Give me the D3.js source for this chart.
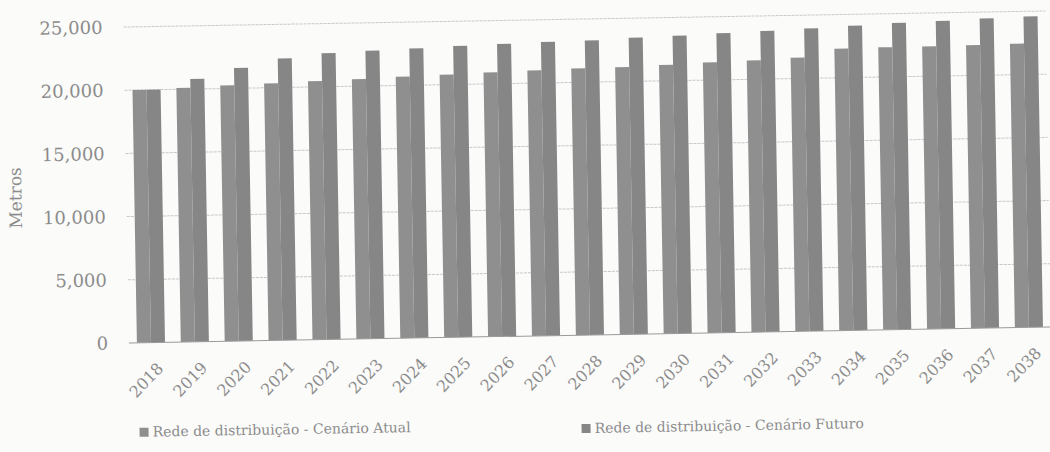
<!DOCTYPE html>
<html>
<head>
<meta charset="utf-8">
<script src="https://d3js.org/d3.v7.min.js"></script>
<style>
  body { margin: 0; background: #fbfbfa; }
  #chart { width: 1050px; height: 452px; }
  .tick text { font-family: "DejaVu Serif", serif; fill: #8c8c8c; }
</style>
</head>
<body>
<div id="chart"></div>
<script>
// data
var anos = ["2018","2019","2020","2021","2022","2023","2024","2025","2026","2027",
            "2028","2029","2030","2031","2032","2033","2034","2035","2036","2037","2038"];
var cenarioAtual = [20000, 20100, 20250, 20350, 20450, 20550, 20700, 20800, 20900, 21000,
                    21100, 21150, 21250, 21400, 21500, 21650, 22300, 22350, 22350, 22400, 22450];
var cenarioFuturo = [20000, 20800, 21600, 22300, 22650, 22800, 22900, 23050, 23150, 23250,
                     23300, 23450, 23550, 23700, 23800, 23950, 24100, 24250, 24350, 24500, 24600];
var yTicks = [0, 5000, 10000, 15000, 20000, 25000];
var series = ["Rede de distribuição - Cenário Atual", "Rede de distribuição - Cenário Futuro"];

var width = 1050;
var height = 452;

// plot area (before the little scan tilt)
var plotLeft = 129;
var plotRight = 1051;
var plotTop = 27;
var plotBottom = 343;

var svg = d3.select("#chart").append("svg")
    .attr("width", width)
    .attr("height", height);

// the whole page is scanned slightly crooked
var g = svg.append("g")
    .attr("transform", "rotate(-1," + plotLeft + "," + plotBottom + ")");

var x = d3.scaleBand()
    .domain(anos)
    .range([plotLeft, plotRight])
    .paddingInner(0.36)
    .paddingOuter(0.18);

var xSub = d3.scaleBand()
    .domain([0, 1])
    .range([0, x.bandwidth()]);

var y = d3.scaleLinear()
    .domain([0, 25000])
    .range([plotBottom, plotTop]);

// gridlines
g.append("g")
    .selectAll("line")
    .data(yTicks.slice(1))
    .enter()
    .append("line")
    .attr("x1", plotLeft)
    .attr("x2", plotRight)
    .attr("y1", d => y(d))
    .attr("y2", d => y(d))
    .style("stroke", "#c8c8c8")
    .style("stroke-width", 1)
    .style("stroke-dasharray", "3,1");

// y axis labels only, no line
var yAxis = d3.axisLeft(y)
    .tickValues(yTicks)
    .tickSize(0)
    .tickPadding(21)
    .tickFormat(d3.format(","));

g.append("g")
    .attr("transform", "translate(" + plotLeft + ",0)")
    .call(yAxis)
    .call(s => s.select(".domain").remove())
    .selectAll("text")
    .style("font-size", "18px");

// bars
var cores = ["#8f8f8f", "#868686"];
var valores = [cenarioAtual, cenarioFuturo];

valores.forEach(function(vals, i) {
    g.append("g")
        .selectAll("rect")
        .data(vals)
        .enter()
        .append("rect")
        .attr("x", (d, j) => x(anos[j]) + xSub(i))
        .attr("y", d => y(d))
        .attr("width", xSub.bandwidth())
        .attr("height", d => y(0) - y(d))
        .style("fill", cores[i]);
});

// baseline
g.append("line")
    .attr("x1", plotLeft)
    .attr("x2", plotRight)
    .attr("y1", y(0))
    .attr("y2", y(0))
    .style("stroke", "#9a9a9a")
    .style("stroke-width", 1);

// x axis labels at 45 degrees
var xAxis = d3.axisBottom(x).tickSize(0).tickPadding(0);

g.append("g")
    .attr("transform", "translate(0," + plotBottom + ")")
    .call(xAxis)
    .call(s => s.select(".domain").remove())
    .selectAll("text")
    .style("font-size", "16px")
    .style("text-anchor", "end")
    .attr("dy", 0)
    .attr("transform", "translate(13,27) rotate(-45)");

// y axis title
g.append("text")
    .attr("transform", "translate(24,196) rotate(-90)")
    .style("text-anchor", "middle")
    .style("font-family", "DejaVu Serif, serif")
    .style("font-size", "17px")
    .style("fill", "#8c8c8c")
    .text("Metros");

// legend
var legendX = [138, 580];
var legendY = [437, 441];
var legend = g.append("g")
    .selectAll("g")
    .data(series)
    .enter()
    .append("g")
    .attr("transform", (d, i) => "translate(" + legendX[i] + "," + legendY[i] + ")");

legend.append("rect")
    .attr("x", 0)
    .attr("y", -9)
    .attr("width", 9)
    .attr("height", 9)
    .style("fill", (d, i) => cores[i]);

legend.append("text")
    .attr("x", 13)
    .attr("y", 0)
    .style("font-family", "DejaVu Serif, serif")
    .style("font-size", "14px")
    .style("fill", "#8c8c8c")
    .text(d => d);
</script>
</body>
</html>
